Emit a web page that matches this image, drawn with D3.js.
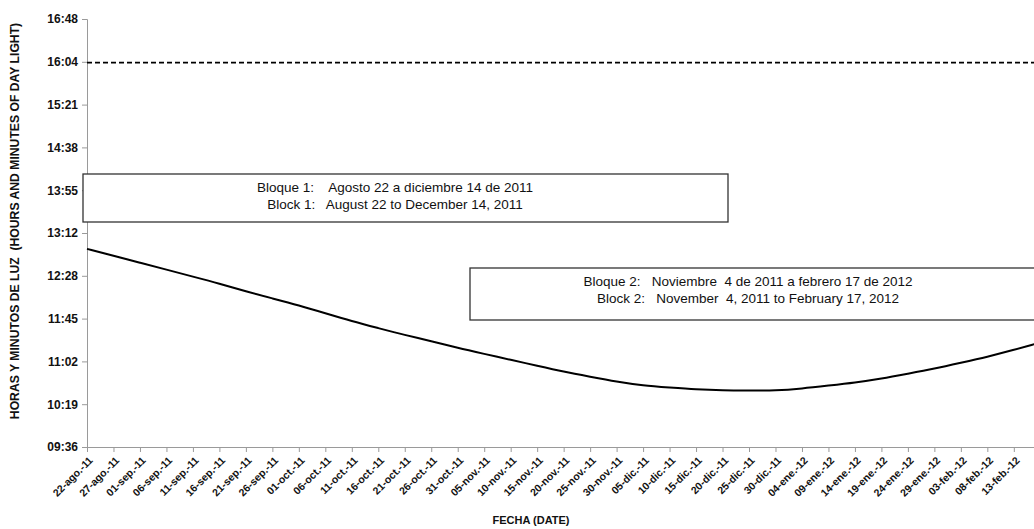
<!DOCTYPE html>
<html>
<head>
<meta charset="utf-8">
<script src="https://cdn.jsdelivr.net/npm/d3@7"></script>
<style>
  html, body { margin: 0; padding: 0; background: #fff; }
  svg { display: block; font-family: "Liberation Sans", Arial, sans-serif; }
  text { white-space: pre; }
</style>
</head>
<body>
<svg id="chart" width="1034" height="529"></svg>
<script>
// ---- data ----
const dates = [
  "2011-08-22","2011-08-27","2011-09-01","2011-09-06","2011-09-11","2011-09-16","2011-09-21","2011-09-26",
  "2011-10-01","2011-10-06","2011-10-11","2011-10-16","2011-10-21","2011-10-26","2011-10-31",
  "2011-11-05","2011-11-10","2011-11-15","2011-11-20","2011-11-25","2011-11-30",
  "2011-12-05","2011-12-10","2011-12-15","2011-12-20","2011-12-25","2011-12-30",
  "2012-01-04","2012-01-09","2012-01-14","2012-01-19","2012-01-24","2012-01-29",
  "2012-02-03","2012-02-08","2012-02-13","2012-02-17"
];
const dayLight = [
  "12:56","12:49","12:42","12:35","12:28","12:21","12:13","12:06",
  "11:59","11:51","11:43","11:36","11:29","11:23","11:16",
  "11:10","11:04","10:58","10:52","10:47","10:42",
  "10:38","10:36","10:34","10:33","10:33","10:33",
  "10:35","10:38","10:41","10:45","10:50","10:55",
  "11:01","11:07","11:14","11:20"
];
const referenceLine = "16:04";
const yTickLabels = ["09:36","10:19","11:02","11:45","12:28","13:12","13:55","14:38","15:21","16:04","16:48"];
const xTickDates = dates.slice(0, 36);
const xTickLabels = [
  "22-ago.-11","27-ago.-11","01-sep.-11","06-sep.-11","11-sep.-11","16-sep.-11","21-sep.-11","26-sep.-11",
  "01-oct.-11","06-oct.-11","11-oct.-11","16-oct.-11","21-oct.-11","26-oct.-11","31-oct.-11",
  "05-nov.-11","10-nov.-11","15-nov.-11","20-nov.-11","25-nov.-11","30-nov.-11",
  "05-dic.-11","10-dic.-11","15-dic.-11","20-dic.-11","25-dic.-11","30-dic.-11",
  "04-ene.-12","09-ene.-12","14-ene.-12","19-ene.-12","24-ene.-12","29-ene.-12",
  "03-feb.-12","08-feb.-12","13-feb.-12"
];
const block1 = ["Bloque 1:    Agosto 22 a diciembre 14 de 2011", "Block 1:   August 22 to December 14, 2011"];
const block2 = ["Bloque 2:   Noviembre  4 de 2011 a febrero 17 de 2012", "Block 2:   November  4, 2011 to February 17, 2012"];
const yTitle = "HORAS Y MINUTOS DE LUZ  (HOURS AND MINUTES OF DAY LIGHT)";
const xTitle = "FECHA (DATE)";

// ---- helpers ----
const parseDate = d3.timeParse("%Y-%m-%d");
const toMin = s => { const [h, m] = s.split(":").map(Number); return h * 60 + m; };
// y tick values: 0.03-day steps as Excel used (labels truncated)
const yTickValues = yTickLabels.map((l, i) => 576 + i * 43.2);

const svg = d3.select("#chart");
const plotLeft = 87, plotRight = 1035, plotTop = 19, plotBottom = 447;

const x = d3.scaleTime()
  .domain([parseDate("2011-08-22"), parseDate("2012-02-17")])
  .range([plotLeft, plotRight]);
const y = d3.scaleLinear().domain([576, 1008]).range([plotBottom, plotTop]);

const axisColor = "#9a9a9a";

// y axis
const yAxis = d3.axisLeft(y).tickValues(yTickValues).tickSize(5)
  .tickFormat((d, i) => yTickLabels[i]);
const gy = svg.append("g").attr("transform", `translate(${plotLeft},0)`).call(yAxis);
gy.select(".domain").attr("stroke", axisColor);
gy.selectAll(".tick line").attr("stroke", axisColor);
gy.selectAll(".tick text").attr("x", -9).attr("fill", "#111")
  .style("font-size", "12px").style("font-weight", "bold");

// x axis
const xAxis = d3.axisBottom(x).tickValues(xTickDates.map(parseDate)).tickSize(5)
  .tickFormat((d, i) => xTickLabels[i]);
const gx = svg.append("g").attr("transform", `translate(0,${plotBottom})`).call(xAxis);
gx.select(".domain").attr("stroke", axisColor);
gx.selectAll(".tick line").attr("stroke", axisColor);
gx.selectAll(".tick text")
  .attr("y", 0).attr("dy", 0)
  .attr("text-anchor", "end")
  .attr("transform", "translate(6,14) rotate(-45)")
  .attr("fill", "#111")
  .style("font-size", "10.5px").style("font-weight", "bold");

// reference dashed line
svg.append("line")
  .attr("x1", plotLeft).attr("x2", plotRight)
  .attr("y1", y(toMin(referenceLine))).attr("y2", y(toMin(referenceLine)))
  .attr("stroke", "#000").attr("stroke-width", 1.6).attr("stroke-dasharray", "5,3");

// daylight curve
const series = dates.map((d, i) => ({ date: parseDate(d), v: toMin(dayLight[i]) }));
svg.append("path").datum(series)
  .attr("fill", "none").attr("stroke", "#000").attr("stroke-width", 2)
  .attr("d", d3.line().x(d => x(d.date)).y(d => y(d.v)).curve(d3.curveBasis));

// annotation boxes
function box(bx, by, bw, bh, lines, cx) {
  svg.append("rect").attr("x", bx).attr("y", by).attr("width", bw).attr("height", bh)
    .attr("fill", "#fff").attr("stroke", "#333").attr("stroke-width", 1.3);
  lines.forEach((t, i) => {
    svg.append("text").attr("x", cx).attr("y", by + 18 + i * 16.5)
      .attr("text-anchor", "middle").attr("fill", "#111")
      .style("font-size", "13.5px").text(t);
  });
}
box(83, 174, 645, 48, block1, 395);
box(470, 268, 580, 52, block2, 748);

// titles
svg.append("text").attr("transform", `translate(19,221) rotate(-90)`)
  .attr("text-anchor", "middle").attr("fill", "#111")
  .style("font-size", "12.2px").style("font-weight", "bold").text(yTitle);
svg.append("text").attr("x", 531).attr("y", 524)
  .attr("text-anchor", "middle").attr("fill", "#111")
  .style("font-size", "11px").style("font-weight", "bold").text(xTitle);
</script>
</body>
</html>
